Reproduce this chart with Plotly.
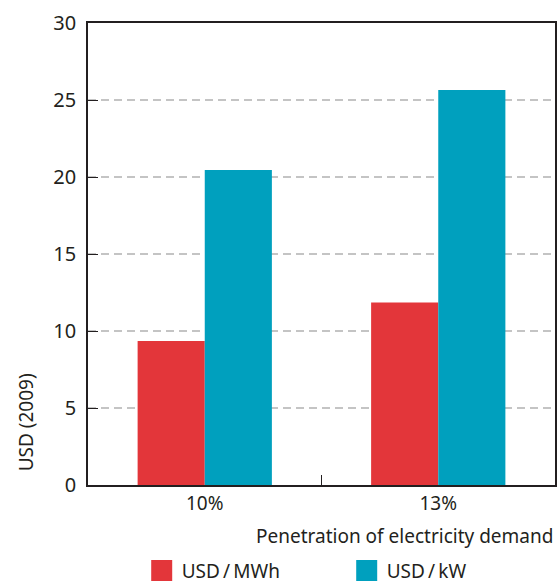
import plotly.graph_objects as go

categories = ['10%', '13%']
usd_mwh = [9.35, 11.85]
usd_kw = [20.45, 25.65]

RED = '#e3363a'
TEAL = '#00a0be'
INK = '#231f20'
FONT = 'Noto Sans'

fig = go.Figure()
fig.add_trace(go.Bar(x=categories, y=usd_mwh, name='USD/MWh', marker_color=RED,
                     marker_line_width=0, showlegend=False))
fig.add_trace(go.Bar(x=categories, y=usd_kw, name='USD/kW', marker_color=TEAL,
                     marker_line_width=0, showlegend=False))
# legend-only entries so the swatches come out as big squares
for name, col in [('USD\u2009/\u2009MWh', RED), ('USD\u2009/\u2009kW', TEAL)]:
    fig.add_trace(go.Scatter(x=[None], y=[None], mode='markers', name=name,
                             marker=dict(symbol='square', size=16, color=col,
                                         line=dict(width=5, color=col))))

fig.update_layout(
    width=558, height=583,
    margin=dict(l=88, r=1, t=23, b=98),
    plot_bgcolor='white', paper_bgcolor='white',
    font=dict(family=FONT, size=20, color=INK),
    barmode='group', bargap=0.425, bargroupgap=0,
    legend=dict(orientation='h', x=0.115, xanchor='left',
                yref='container', y=0.021, yanchor='middle',
                itemsizing='trace', entrywidth=160, entrywidthmode='pixels',
                font=dict(size=19), tracegroupgap=0),
)
fig.update_xaxes(showline=True, linecolor=INK, linewidth=1.5, mirror=True,
                 ticks='inside', tickson='boundaries', ticklen=10, tickcolor=INK,
                 showgrid=False, tickfont_size=19)
fig.update_yaxes(range=[0, 30], dtick=5, showline=True, linecolor=INK, linewidth=1.5,
                 mirror=True, ticks='inside', ticklen=10, tickcolor=INK,
                 showgrid=True, gridcolor='#c4c4c4', griddash='8px,5px', gridwidth=1.5,
                 zeroline=False, ticklabelstandoff=6)
# axis titles: y title sits at the bottom, x title flush right
fig.add_annotation(text='USD (2009)', xref='paper', yref='paper', textangle=-90,
                   x=-0.132, y=0.026, xanchor='center', yanchor='bottom',
                   showarrow=False, font=dict(size=19))
fig.add_annotation(text='Penetration of electricity demand', xref='paper', yref='paper',
                   x=1.0, y=-0.11, xanchor='right', yanchor='middle', showarrow=False,
                   font=dict(size=19))

fig.write_html('out.html', config={'displayModeBar': False},
               post_script="document.body.style.margin='0';")
